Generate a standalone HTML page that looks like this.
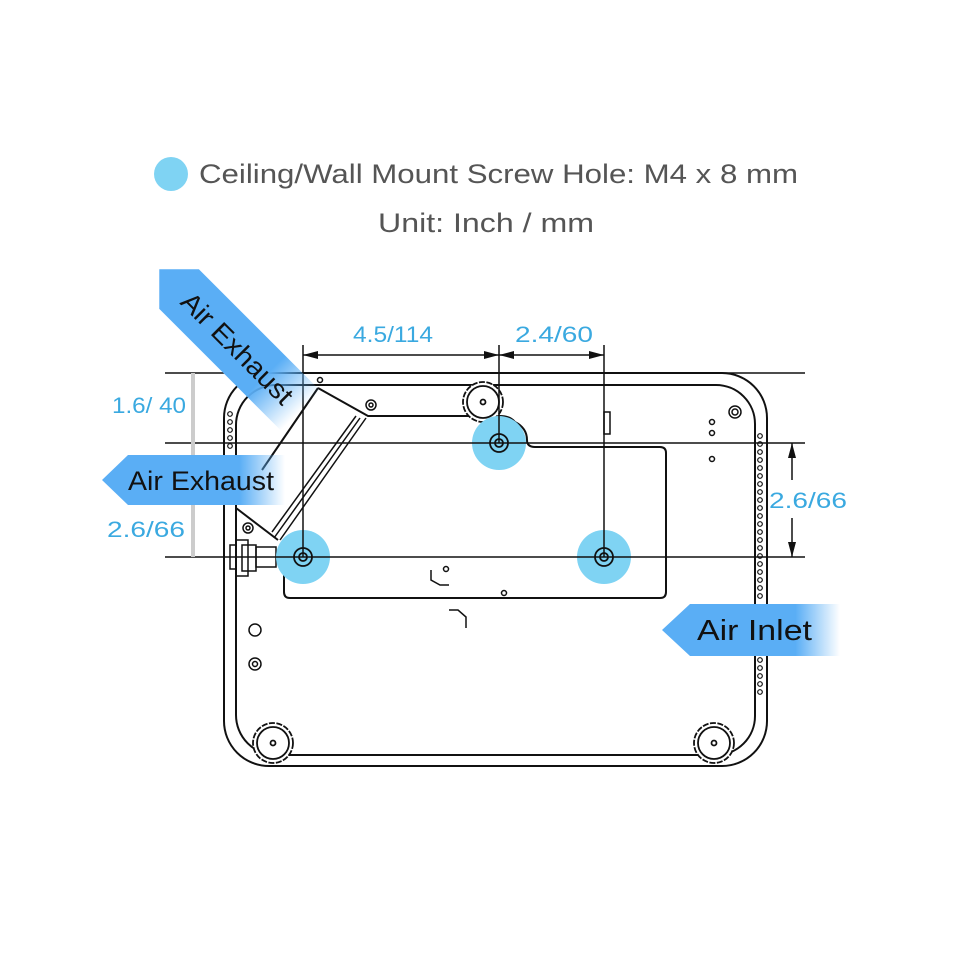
<!DOCTYPE html>
<html><head><style>
body{margin:0;background:#fff;}
svg{display:block;}
</style></head><body>
<svg width="960" height="960" viewBox="0 0 960 960" xmlns="http://www.w3.org/2000/svg" font-family="Liberation Sans, sans-serif">
<defs>
<linearGradient id="fr" x1="0" x2="1" y1="0" y2="0">
<stop offset="0.75" stop-color="#5aaef5"/><stop offset="1" stop-color="#5aaef5" stop-opacity="0"/>
</linearGradient>
</defs>
<!-- header -->
<circle cx="171" cy="174" r="17" fill="#7fd3f3"/>
<text x="199" y="183" font-size="27" fill="#555" textLength="599" lengthAdjust="spacingAndGlyphs">Ceiling/Wall Mount Screw Hole: M4 x 8 mm</text>
<text x="378" y="232" font-size="27" fill="#555" textLength="216" lengthAdjust="spacingAndGlyphs">Unit: Inch / mm</text>

<g fill="none" stroke="#111" stroke-width="2">
<path d="M269 373 H722 A45 45 0 0 1 767 418 V721 A45 45 0 0 1 722 766 H269 A45 45 0 0 1 224 721 V418 A45 45 0 0 1 269 373 Z"/>
<path d="M276 385 H716 A39 39 0 0 1 755 424 V716 A39 39 0 0 1 716 755 H276 A40 40 0 0 1 236 715 V425 A40 40 0 0 1 276 385 Z"/>
<path d="M318 388 L368 416 H500 Q510 416 515 422 Q527 428 527 440 Q527 447 535 447 H660 Q666 447 666 453 V592 Q666 598 660 598 H290 Q284 598 284 592 V542"/>
<path d="M318 388 L262 470"/>
<path d="M236 508 L278 540"/>
<path d="M366 418 L280 540 M360 418 L274 538 M356 416 L272 532" stroke-width="1.5"/>
<path d="M431 570 V580 L440 585 H449" stroke-width="1.5"/>
<path d="M449 610 H458 L466 617 V628" stroke-width="1.5"/>
</g>
<g fill="#fff" stroke="#111" stroke-width="1.8">
<circle cx="483" cy="402" r="20" stroke-dasharray="6 1.5"/><circle cx="483" cy="402" r="16"/><circle cx="483" cy="402" r="2.5"/>
<circle cx="273" cy="743" r="20" stroke-dasharray="6 1.5"/><circle cx="273" cy="743" r="16"/><circle cx="273" cy="743" r="2.5"/>
<circle cx="714" cy="743" r="20" stroke-dasharray="6 1.5"/><circle cx="714" cy="743" r="16"/><circle cx="714" cy="743" r="2.5"/>
</g>
<g fill="none" stroke="#111" stroke-width="1.5">
<circle cx="371" cy="405" r="5"/><circle cx="371" cy="405" r="2"/>
<circle cx="735" cy="412" r="6"/><circle cx="735" cy="412" r="3"/>
<circle cx="712" cy="422" r="2.5"/><circle cx="712" cy="433" r="2.5"/><circle cx="712" cy="459" r="2.5"/>
<circle cx="320" cy="380" r="2.5"/><circle cx="446" cy="569" r="2.5"/><circle cx="504" cy="593" r="2.5"/>
<circle cx="248" cy="528" r="5"/><circle cx="248" cy="528" r="2"/>
<circle cx="255" cy="630" r="6"/><circle cx="255" cy="664" r="6"/><circle cx="255" cy="664" r="2.5"/>
<rect x="604" y="412" width="6" height="22"/>
<rect x="230" y="545" width="6" height="24"/><rect x="236" y="540" width="12" height="36"/><rect x="242" y="545" width="14" height="26"/><rect x="256" y="547" width="20" height="20"/>
</g>
<g fill="none" stroke="#111" stroke-width="1.2">
<circle cx="760" cy="436" r="2.3"/><circle cx="760" cy="444" r="2.3"/><circle cx="760" cy="452" r="2.3"/><circle cx="760" cy="460" r="2.3"/><circle cx="760" cy="468" r="2.3"/><circle cx="760" cy="476" r="2.3"/><circle cx="760" cy="484" r="2.3"/><circle cx="760" cy="492" r="2.3"/><circle cx="760" cy="500" r="2.3"/><circle cx="760" cy="508" r="2.3"/><circle cx="760" cy="516" r="2.3"/><circle cx="760" cy="524" r="2.3"/><circle cx="760" cy="532" r="2.3"/><circle cx="760" cy="540" r="2.3"/><circle cx="760" cy="548" r="2.3"/><circle cx="760" cy="556" r="2.3"/><circle cx="760" cy="564" r="2.3"/><circle cx="760" cy="572" r="2.3"/><circle cx="760" cy="580" r="2.3"/><circle cx="760" cy="588" r="2.3"/><circle cx="760" cy="596" r="2.3"/><circle cx="760" cy="660" r="2.3"/><circle cx="760" cy="668" r="2.3"/><circle cx="760" cy="676" r="2.3"/><circle cx="760" cy="684" r="2.3"/><circle cx="760" cy="692" r="2.3"/>
<circle cx="230" cy="414" r="2.3"/><circle cx="230" cy="422" r="2.3"/><circle cx="230" cy="430" r="2.3"/><circle cx="230" cy="438" r="2.3"/><circle cx="230" cy="446" r="2.3"/>
</g>
<g fill="#7fd3f3"><circle cx="303" cy="557" r="27"/><circle cx="499" cy="443" r="27"/><circle cx="604" cy="557" r="27"/></g>
<g fill="none" stroke="#111" stroke-width="1.8">
<circle cx="303" cy="557" r="9"/><circle cx="303" cy="557" r="4"/>
<circle cx="499" cy="443" r="9"/><circle cx="499" cy="443" r="4"/>
<circle cx="604" cy="557" r="9"/><circle cx="604" cy="557" r="4"/>
</g>
<g stroke="#111" stroke-width="1.5" fill="none">
<line x1="165" y1="373" x2="805" y2="373"/>
<line x1="165" y1="443" x2="805" y2="443"/>
<line x1="165" y1="557" x2="805" y2="557"/>
<line x1="303" y1="345" x2="303" y2="557"/>
<line x1="499" y1="345" x2="499" y2="443"/>
<line x1="604" y1="345" x2="604" y2="557"/>
<line x1="303" y1="355" x2="604" y2="355"/>
<line x1="792" y1="443" x2="792" y2="480"/><line x1="792" y1="518" x2="792" y2="557"/>
</g>
<g fill="#111">
<path d="M303 355 L318 351 L318 359Z"/><path d="M499 355 L484 351 L484 359Z"/>
<path d="M499 355 L514 351 L514 359Z"/><path d="M604 355 L589 351 L589 359Z"/>
<path d="M792 443 L788 458 L796 458Z"/><path d="M792 557 L788 542 L796 542Z"/>
</g>
<rect x="191" y="373" width="4" height="184" fill="#ccc"/>
<g fill="#3aa9e0" font-size="22">
<text x="353" y="342" textLength="80" lengthAdjust="spacingAndGlyphs">4.5/114</text>
<text x="515" y="342" textLength="78" lengthAdjust="spacingAndGlyphs">2.4/60</text>
<text x="112" y="413" textLength="74" lengthAdjust="spacingAndGlyphs">1.6/ 40</text>
<text x="107" y="537" textLength="78" lengthAdjust="spacingAndGlyphs">2.6/66</text>
<text x="769" y="508" textLength="78" lengthAdjust="spacingAndGlyphs">2.6/66</text>
</g>
<path d="M102 480 L128 455 H285 V505 H128 Z" fill="url(#fr)"/>
<text x="128" y="490" font-size="27" fill="#111" textLength="146" lengthAdjust="spacingAndGlyphs">Air Exhaust</text>
<path d="M662 630 L690 604 H840 V656 H690 Z" fill="url(#fr)"/>
<text x="697" y="640" font-size="29" fill="#111" textLength="115" lengthAdjust="spacingAndGlyphs">Air Inlet</text>
<g transform="translate(230,340) rotate(45)">
<path d="M-100 0 L-72 -28 H100 V28 H-72 Z" fill="url(#fr)"/>
<text x="-62" y="10" font-size="27" fill="#111" textLength="146" lengthAdjust="spacingAndGlyphs">Air Exhaust</text>
</g>
</svg>
</body></html>
